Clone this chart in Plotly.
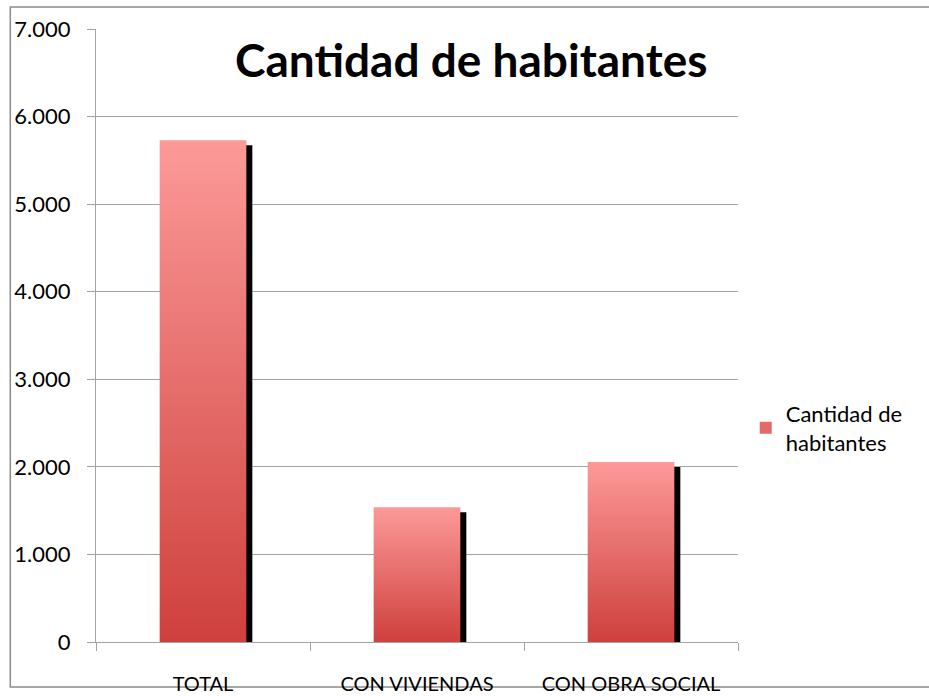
import plotly.graph_objects as go

# data
categories = ["TOTAL", "CON VIVIENDAS", "CON OBRA SOCIAL"]
habitantes = [5730, 1540, 2055]
y_ticks = [0, 1000, 2000, 3000, 4000, 5000, 6000, 7000]
series_name = "Cantidad de habitantes"

FONT = "Lato, 'Open Sans', sans-serif"
GRID = "#a3a3a3"
BAR_TOP = "#fc9a98"
BAR_BOTTOM = "#ce403d"

bar_w = 0.405      # share of each category band
shadow_dx = 0.028  # shadow shift to the right (x units)
shadow_dy = 57     # shadow drop (y units)

fig = go.Figure()

# black drop shadow behind each bar
fig.add_trace(go.Bar(
    x=list(range(len(categories))),
    y=[v - shadow_dy for v in habitantes],
    width=bar_w,
    offset=-bar_w / 2 + shadow_dx,
    marker=dict(color="black", line_width=0),
    showlegend=False,
    hoverinfo="skip",
))

# gradient bars (one fill per category so each has its own gradient)
for i, v in enumerate(habitantes):
    x0, x1 = i - bar_w / 2, i + bar_w / 2
    fig.add_trace(go.Scatter(
        x=[x0, x1, x1, x0, x0],
        y=[0, 0, v, v, 0],
        mode="lines",
        fill="toself",
        fillgradient=dict(type="vertical",
                          colorscale=[[0, BAR_BOTTOM], [1, BAR_TOP]]),
        line=dict(width=0, color=BAR_BOTTOM),
        showlegend=False,
        name=categories[i],
        hovertemplate=f"{categories[i]}: {v:,}<extra></extra>",
    ))

# legend entry only
fig.add_trace(go.Bar(
    x=[None], y=[None],
    name="Cantidad de<br>habitantes",
    marker=dict(color="#e36a68", line_width=0),
))

fig.update_layout(
    width=929, height=696,
    margin=dict(l=96, r=191, t=29, b=54),
    paper_bgcolor="white", plot_bgcolor="white",
    separators=",.",
    barmode="overlay",
    font=dict(family=FONT, color="black"),
    legend=dict(x=1.012, y=0.349, xanchor="left", yanchor="middle",
                font=dict(size=22, family=FONT), bgcolor="rgba(0,0,0,0)",
                itemwidth=30),
    xaxis=dict(
        range=[-0.5, len(categories) - 0.5],
        tickmode="array", tickvals=list(range(len(categories))), ticktext=categories,
        ticks="", showgrid=False, zeroline=False,
        showline=True, linecolor=GRID, linewidth=1,
        tickfont=dict(size=20, family=FONT),
        ticklabelstandoff=24, automargin=False,
        minor=dict(tickmode="array", tickvals=[-0.5, 0.5, 1.5, 2.5],
                   ticks="outside", ticklen=8, tickcolor=GRID, showgrid=False),
    ),
    yaxis=dict(
        range=[0, 7000],
        tickmode="array", tickvals=y_ticks, tickformat=",.0f",
        ticks="outside", ticklen=8, tickcolor=GRID,
        showgrid=True, gridcolor=GRID, gridwidth=1,
        zeroline=False, showline=True, linecolor=GRID, linewidth=1,
        tickfont=dict(size=22, family=FONT),
        ticklabelstandoff=12, automargin=False,
    ),
    annotations=[dict(
        text="<b>Cantidad de habitantes</b>",
        xref="paper", yref="paper", x=0.584, y=0.951,
        xanchor="center", yanchor="middle", showarrow=False,
        font=dict(size=46, family=FONT, color="black"),
    )],
    shapes=[dict(
        type="rect", xref="paper", yref="paper",
        x0=-0.1335, x1=1.32, y0=-0.0734, y1=1.0359,
        line=dict(color="#8a8a8a", width=1.5), fillcolor="rgba(0,0,0,0)",
        layer="below",
    )],
)

fig.write_html("out.html", config={"displayModeBar": False},
               post_script="document.body.style.margin='0';")
